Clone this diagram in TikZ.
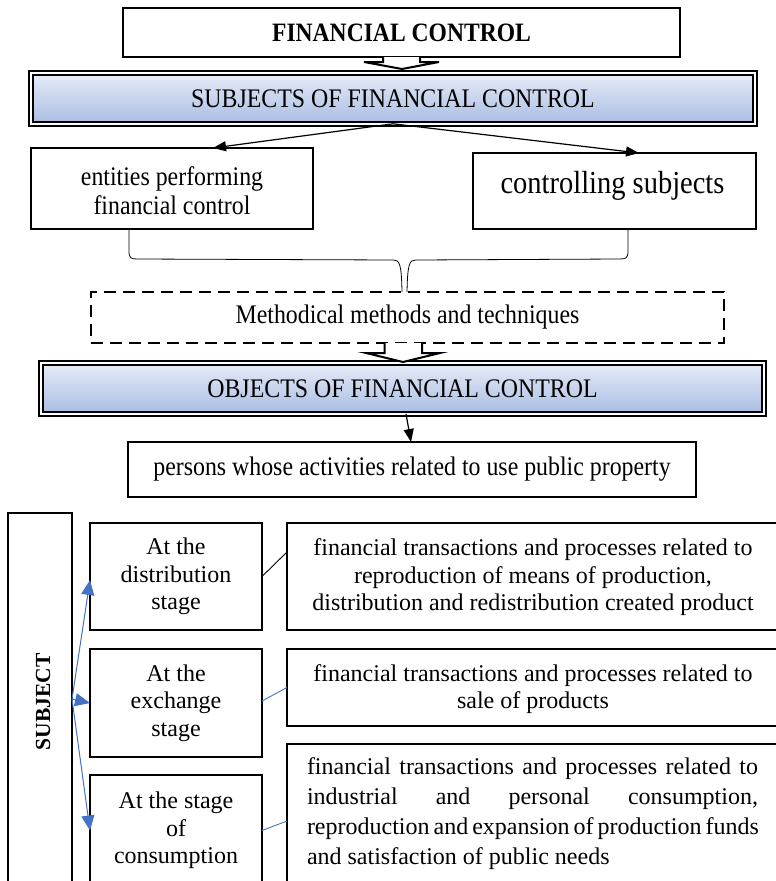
\documentclass[tikz,border=0pt]{standalone}
\usepackage{fontspec}
\setmainfont{Liberation Serif}
\newfontfamily\condfont{Liberation Serif}[FakeStretch=0.89]
\usetikzlibrary{calc,arrows.meta}
\definecolor{shadetop}{RGB}{230,236,248}
\definecolor{shadebot}{RGB}{168,188,226}
\definecolor{linkblue}{RGB}{68,114,196}

\begin{document}
\begin{tikzpicture}[x=1pt,y=-1pt,
  box/.style={draw, line width=2.4pt, rectangle, inner sep=0pt, outer sep=0pt, align=center},
  dblbox/.style={rectangle, draw, line width=2.3pt, double=white, double distance=1.8pt,
    top color=shadetop, bottom color=shadebot, inner sep=0pt, outer sep=0pt, align=center},
  dashbox/.style={draw, line width=2.6pt, dash pattern=on 12pt off 7pt, rectangle,
    inner sep=0pt, outer sep=0pt, align=center},
  uptext/.style={font=\condfont\fontsize{26.8}{28.5}\selectfont},
  lowtext/.style={font=\fontsize{24}{27.5}\selectfont},
  barrow/.style={draw, fill=white, line width=2pt, line join=miter},
  arr/.style={line width=1.2pt, -{Triangle[length=13pt,width=10pt]}},
  bluearr/.style={draw=linkblue, line width=1pt, -{Triangle[length=15pt,width=13pt]}, color=linkblue},
  link/.style={line width=0.9pt},
  bracel/.style={line width=0.8pt}
]
\useasboundingbox (0,0) rectangle (776,881);
\begin{scope}
\clip (0,0) rectangle (776,881);

% --- upper part: subjects ---
\node[box, minimum width=557pt, minimum height=49pt,
      font=\condfont\bfseries\fontsize{26.5}{30}\selectfont] (fc) at (401.5,32.5) {FINANCIAL CONTROL};

\node[dblbox, uptext, minimum width=723.6pt, minimum height=50.6pt] (subj) at (393,98.5)
  {SUBJECTS OF FINANCIAL CONTROL};

\draw[barrow] ($(fc.south)+(-18.5,0)$) -- ++(0,5) -- ++(-19,0) -- ($(fc.south)+(0.5,12)$)
  -- ($(fc.south)+(37.5,5)$) -- ++(-19,0) -- ++(0,-5);

\node[box, minimum width=282pt, minimum height=81pt] (ent) at (172,188.5) {};
\node[uptext, align=center, inner sep=0pt] (entt) at ($(ent.center)+(0,2)$)
  {entities performing\\ financial control};
\node[box, minimum width=283pt, minimum height=76pt] (ctrl) at (614.5,191) {};
\node[font=\condfont\fontsize{32}{36}\selectfont, inner sep=0pt] (ctrlt) at ($(ctrl.center)+(-2,-5)$)
  {controlling subjects};

\draw[arr] (subj.south) -- ($(ent.north west)+(182,0)$);
\draw[arr] (subj.south) -- ($(ctrl.north west)+(166,0)$);

\node[dashbox, uptext, minimum width=633pt, minimum height=51pt] (dsh) at (407.5,317.5)
  {Methodical methods and techniques};

% brace gathering both subject boxes
\coordinate (bl) at ($(ent.south west)+(98,0)$);
\coordinate (br) at ($(ctrl.south west)+(155,0)$);
\draw[bracel] (bl) -- ($(bl)+(0,22)$) .. controls ($(bl)+(0,29)$) and ($(bl)+(2,30)$) .. ($(bl)+(8,30)$)
  -- ($(dsh.north)+(-14,-32)$) .. controls ($(dsh.north)+(-8,-32)$) and ($(dsh.north)+(-6,-28)$) .. ($(dsh.north)+(-5.5,0)$);
\draw[bracel] (br) -- ($(br)+(0,22)$) .. controls ($(br)+(0,29)$) and ($(br)+(-2,30)$) .. ($(br)+(-8,30)$)
  -- ($(dsh.north)+(8,-32)$) .. controls ($(dsh.north)+(2,-32)$) and ($(dsh.north)+(0,-28)$) .. ($(dsh.north)+(-0.5,0)$);

% --- objects ---
\node[dblbox, uptext, minimum width=722.6pt, minimum height=50.6pt] (obj) at (402.5,388.5)
  {OBJECTS OF FINANCIAL CONTROL};

\draw[barrow] ($(dsh.south)+(-23,0)$) -- ++(0,10) -- ++(-18.5,0) -- ($(dsh.south)+(-4.5,19)$)
  -- ($(dsh.south)+(32.5,10)$) -- ++(-18,0) -- ++(0,-10);

\node[box, uptext, minimum width=568pt, minimum height=55pt] (pers) at (412,469.5)
  {persons whose activities related to use public property};

\draw[arr] ($(obj.south)+(3.5,0)$) -- ($(pers.north)+(-1,0)$);

% --- lower part: stages ---
\node[box, minimum width=64pt, minimum height=378pt] (sbj) at (40,702) {};
\node[rotate=90, font=\bfseries\fontsize{21.5}{24}\selectfont, inner sep=0pt] (sbjt) at (43,702) {SUBJECT};

\node[box, lowtext, minimum width=172pt, minimum height=107pt] (dist) at (176,576.5)
  {At the\\ distribution\\ stage};
\node[box, lowtext, minimum width=172pt, minimum height=108pt] (exch) at (176,703)
  {At the\\ exchange\\ stage};
\node[box, lowtext, minimum width=172pt, minimum height=111pt] (cons) at (176,830.5)
  {At the stage\\ of\\ consumption};

\node[box, minimum width=494pt, minimum height=107pt] (r1) at (534,576.5) {};
\node[lowtext, align=center, inner sep=0pt] (r1t) at (533,577.5)
  {financial transactions and processes related to\\
   reproduction of means of production,\\
   distribution and redistribution created product};
\node[box, minimum width=494pt, minimum height=77pt] (r2) at (534,687.5) {};
\node[lowtext, align=center, inner sep=0pt] (r2t) at (533,689)
  {financial transactions and processes related to\\ sale of products};
\node[box, minimum width=494pt, minimum height=140pt] (r3) at (534,814) {};
\node[font=\fontsize{24}{30}\selectfont, align=left, inner sep=0pt] (r3t) at (532.5,814)
  {\makebox[451pt][s]{financial transactions and processes related to}\\
   \makebox[451pt][s]{industrial and personal consumption,}\\
   \makebox[451pt][s]{reproduction and expansion of production funds}\\
   \makebox[451pt][l]{and satisfaction of public needs}};

\draw[bluearr] ($(sbj.east)+(0,-3)$) -- ($(dist.west)+(0,3.5)$);
\draw[bluearr] ($(sbj.east)+(0,-3)$) -- (exch.west);
\draw[bluearr] ($(sbj.east)+(0,-3)$) -- (cons.west);

\draw[link] (dist.east) -- ($(r1.west)+(0,-24.5)$);
\draw[link, linkblue] ($(exch.east)+(0,-2)$) -- (r2.west);
\draw[link, linkblue] (cons.east) -- ($(r3.west)+(0,7)$);
\end{scope}
\end{tikzpicture}
\end{document}
